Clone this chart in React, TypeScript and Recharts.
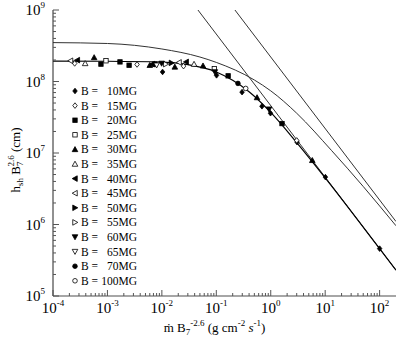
import { ComposedChart, Line, Scatter, XAxis, YAxis, Legend } from "recharts";

// axis ticks (decades)
const xMajor = [1e-4, 1e-3, 1e-2, 1e-1, 1, 10, 100];
const yMajor = [1e5, 1e6, 1e7, 1e8, 1e9];

// model curves
const lowerCurve = [
  { x: 1e-4, y: 1.93e8 }, { x: 1e-3, y: 1.92e8 }, { x: 1e-2, y: 1.87e8 },
  { x: 0.03, y: 1.72e8 }, { x: 0.1, y: 1.36e8 }, { x: 0.2, y: 1.04e8 },
  { x: 0.4, y: 7.2e7 }, { x: 1, y: 3.7e7 }, { x: 3, y: 1.4e7 },
  { x: 10, y: 4.5e6 }, { x: 100, y: 4.6e5 }, { x: 200, y: 2.3e5 },
];
const upperCurve = [
  { x: 1e-4, y: 3.5e8 }, { x: 1e-3, y: 3.4e8 }, { x: 1e-2, y: 2.85e8 },
  { x: 0.05, y: 2.2e8 }, { x: 0.1, y: 1.85e8 }, { x: 0.5, y: 1.05e8 },
  { x: 1, y: 7.4e7 }, { x: 3, y: 3.6e7 }, { x: 13, y: 1.09e7 },
  { x: 50, y: 3.4e6 }, { x: 200, y: 9.6e5 },
];
const steepA = [{ x: 0.046, y: 1e9 }, { x: 200, y: 2.3e5 }];
const steepB = [{ x: 0.22, y: 1e9 }, { x: 200, y: 1.1e6 }];

// simulation points, one array per field strength
const b10 = [
  { x: 1.03e-2, y: 1.36e8 }, { x: 0.101, y: 1.22e8 }, { x: 0.297, y: 7.1e7 },
  { x: 0.69, y: 4.5e7 }, { x: 0.99, y: 3.6e7 }, { x: 3.04, y: 1.42e7 },
  { x: 10.1, y: 4.6e6 }, { x: 100, y: 4.6e5 },
];
const b15 = [{ x: 2.5e-4, y: 1.79e8 }, { x: 3.5e-3, y: 1.73e8 }, { x: 2.5e-2, y: 1.64e8 }, { x: 3.0, y: 1.5e7 }];
const b20 = [
  { x: 7.6e-4, y: 1.75e8 }, { x: 1.7e-3, y: 1.88e8 }, { x: 2.5e-3, y: 1.69e8 },
  { x: 7.4e-3, y: 1.75e8 }, { x: 0.165, y: 1.2e8 }, { x: 1.61, y: 2.58e7 },
];
const b25 = [{ x: 9.4e-4, y: 1.95e8 }, { x: 9.2e-2, y: 1.51e8 }];
const b30 = [
  { x: 5.7e-4, y: 2.17e8 }, { x: 6.0e-3, y: 1.69e8 }, { x: 1.73e-2, y: 1.6e8 },
  { x: 5.7e-2, y: 1.66e8 }, { x: 0.56, y: 5.97e7 }, { x: 5.8, y: 7.9e6 },
];
const b35 = [{ x: 3.9e-4, y: 1.79e8 }, { x: 3.9e-2, y: 1.75e8 }];
const b40 = [{ x: 2.8e-4, y: 1.99e8 }, { x: 6.7e-3, y: 1.75e8 }, { x: 2.8e-2, y: 1.88e8 }];
const b45 = [{ x: 2.1e-4, y: 1.95e8 }, { x: 2.07e-2, y: 1.85e8 }];
const b50 = [{ x: 1.5e-2, y: 1.82e8 }];
const b55 = [{ x: 1.18e-2, y: 1.75e8 }];
const b60 = [{ x: 9.9e-3, y: 1.79e8 }, { x: 9.4e-2, y: 1.36e8 }, { x: 0.93, y: 4.1e7 }];
const b65 = [{ x: 8.0e-3, y: 1.69e8 }];
const b70 = [{ x: 0.25, y: 9.4e7 }];
const b100 = [{ x: 0.347, y: 8.0e7 }];

const fieldLabels = ["10MG", "15MG", "20MG", "25MG", "30MG", "35MG", "40MG", "45MG", "50MG", "55MG", "60MG", "65MG", "70MG", "100MG"];
const fieldData = [b10, b15, b20, b25, b30, b35, b40, b45, b50, b55, b60, b65, b70, b100];
const markerKinds = ["diamond", "diamond", "square", "square", "up", "up", "left", "left", "right", "right", "down", "down", "circle", "circle"];
const markerOpen = [false, true, false, true, false, true, false, true, false, true, false, true, false, true];

const SERIF = "'Liberation Serif', 'DejaVu Serif', serif";

function minors(lo: number, hi: number, max: number) {
  const out: number[] = [];
  for (let e = lo; e < hi; e++) for (let m = 2; m <= 9; m++) {
    const v = m * Math.pow(10, e);
    if (v < max) out.push(v);
  }
  return out;
}
const xTicks = [...xMajor, ...minors(-4, 3, 199)];
const yTicks = [...yMajor, ...minors(5, 9, 1e9)];

const isDecade = (v: number) => Math.abs(Math.log10(v) - Math.round(Math.log10(v))) < 1e-6;

function makeTick(side: "bottom" | "top" | "left" | "right", showLabel: boolean) {
  return (props: any) => {
    const { x, y, payload } = props;
    const v = payload.value;
    const major = isDecade(v);
    const len = major ? 6 : 3;
    const exp = Math.round(Math.log10(v));
    let line;
    if (side === "bottom") line = <line x1={x} y1={y} x2={x} y2={y - len} />;
    else if (side === "top") line = <line x1={x} y1={y} x2={x} y2={y + len} />;
    else if (side === "left") line = <line x1={x} y1={y} x2={x + len} y2={y} />;
    else line = <line x1={x} y1={y} x2={x - len} y2={y} />;
    return (
      <g stroke="#555" strokeWidth={1}>
        {line}
        {showLabel && major && side === "bottom" && (
          <text x={x} y={y + 17} textAnchor="middle" fontFamily={SERIF} fontSize={15} fill="#000" stroke="none">
            10<tspan dy={-7} fontSize={9}>{exp}</tspan>
          </text>
        )}
        {showLabel && major && side === "left" && (
          <text x={x - 8} y={y + 5} textAnchor="end" fontFamily={SERIF} fontSize={15} fill="#000" stroke="none">
            10<tspan dy={-7} fontSize={9}>{exp}</tspan>
          </text>
        )}
      </g>
    );
  };
}

function Mark({ kind, open, cx, cy }: { kind: string; open: boolean; cx: number; cy: number }) {
  const fill = open ? "#fff" : "#000";
  const s = { fill, stroke: "#000", strokeWidth: 0.8 };
  const r = 2.8;
  switch (kind) {
    case "diamond":
      return <polygon {...s} points={`${cx},${cy - r} ${cx + r * 0.8},${cy} ${cx},${cy + r} ${cx - r * 0.8},${cy}`} />;
    case "square":
      return <rect {...s} x={cx - 2.2} y={cy - 2.2} width={4.4} height={4.4} />;
    case "up":
      return <polygon {...s} points={`${cx},${cy - r} ${cx + r},${cy + r * 0.8} ${cx - r},${cy + r * 0.8}`} />;
    case "down":
      return <polygon {...s} points={`${cx},${cy + r} ${cx + r},${cy - r * 0.8} ${cx - r},${cy - r * 0.8}`} />;
    case "left":
      return <polygon {...s} points={`${cx - r},${cy} ${cx + r * 0.8},${cy - r} ${cx + r * 0.8},${cy + r}`} />;
    case "right":
      return <polygon {...s} points={`${cx + r},${cy} ${cx - r * 0.8},${cy - r} ${cx - r * 0.8},${cy + r}`} />;
    default:
      return <circle {...s} cx={cx} cy={cy} r={2.3} />;
  }
}

const renderLegend = () => (
  <svg width={80} height={204} style={{ display: "block" }}>
    {fieldLabels.map((lab, i) => {
      const cy = 8 + i * 14.6;
      return (
        <g key={lab}>
          <Mark kind={markerKinds[i]} open={markerOpen[i]} cx={7} cy={cy} />
          <text x={13} y={cy + 4} fontFamily={SERIF} fontSize={11.5} fill="#000">B =</text>
          <text x={69} y={cy + 4} textAnchor="end" fontFamily={SERIF} fontSize={11.5} fill="#000">{lab}</text>
        </g>
      );
    })}
  </svg>
);

const XLabel = (props: any) => {
  const { viewBox } = props;
  const cx = viewBox.x + viewBox.width / 2 - 10;
  const y = viewBox.y + 36;
  return (
    <text x={cx} y={y} textAnchor="middle" fontFamily={SERIF} fontSize={13} fill="#000">
      ṁ B<tspan dy={3} fontSize={9}>7</tspan>
      <tspan dy={-9} fontSize={9}>-2.6</tspan>
      <tspan dy={6}> (g cm</tspan>
      <tspan dy={-6} fontSize={9}>-2</tspan>
      <tspan dy={6}> </tspan>
      <tspan fontStyle="italic">s</tspan>
      <tspan dy={-6} fontSize={9}>-1</tspan>
      <tspan dy={6}>)</tspan>
    </text>
  );
};

const YLabel = () => (
  <text x={0} y={0} transform="translate(20,160) rotate(-90)" textAnchor="middle" fontFamily={SERIF} fontSize={13} fill="#000">
    h<tspan dy={3} fontSize={9}>sh</tspan>
    <tspan dy={-3}> B</tspan>
    <tspan dy={3} fontSize={9}>7</tspan>
    <tspan dy={-9} dx={-5} fontSize={9}>2.6</tspan>
    <tspan dy={6}> (cm)</tspan>
  </text>
);

export default function App() {
  return (
    <div style={{ position: "absolute", left: 0, top: 0, background: "#fff" }}>
      <ComposedChart width={397} height={338} margin={{ top: 10, right: 1, left: 0, bottom: 0 }}>
        <XAxis
          dataKey="x" type="number" scale="log" domain={[1e-4, 200]} allowDataOverflow
          ticks={xTicks} interval={0} tickSize={0} tickMargin={0} height={42}
          axisLine={{ stroke: "#888", strokeWidth: 1.5 }} tick={makeTick("bottom", true)}
          label={<XLabel />}
        />
        <XAxis
          xAxisId="top" orientation="top" dataKey="x" type="number" scale="log" domain={[1e-4, 200]} allowDataOverflow
          ticks={xTicks} interval={0} tickSize={0} tickMargin={0} height={0}
          axisLine={{ stroke: "#999", strokeWidth: 2 }} tick={makeTick("top", false)}
        />
        <YAxis
          dataKey="y" type="number" scale="log" domain={[1e5, 1e9]} allowDataOverflow
          ticks={yTicks} interval={0} tickSize={0} tickMargin={0} width={53}
          axisLine={{ stroke: "#222", strokeWidth: 1 }} tick={makeTick("left", true)}
          label={<YLabel />}
        />
        <YAxis
          yAxisId="right" orientation="right" dataKey="y" type="number" scale="log" domain={[1e5, 1e9]} allowDataOverflow
          ticks={yTicks} interval={0} tickSize={0} tickMargin={0} width={0}
          axisLine={{ stroke: "#888", strokeWidth: 1.5 }} tick={makeTick("right", false)}
        />
        <Line data={upperCurve} dataKey="y" type="monotone" stroke="#333" strokeWidth={1} dot={false} isAnimationActive={false} />
        <Line data={steepA} dataKey="y" type="linear" stroke="#333" strokeWidth={1} dot={false} isAnimationActive={false} />
        <Line data={steepB} dataKey="y" type="linear" stroke="#333" strokeWidth={1} dot={false} isAnimationActive={false} />
        <Line data={lowerCurve} dataKey="y" type="monotone" stroke="#000" strokeWidth={1.2} dot={false} isAnimationActive={false} />
        {fieldLabels.map((lab, i) => (
          <Scatter
            key={lab}
            name={`B = ${lab}`}
            data={fieldData[i]}
            dataKey="y"
            isAnimationActive={false}
            shape={(p: any) => <Mark kind={markerKinds[i]} open={markerOpen[i]} cx={p.cx} cy={p.cy} />}
          />
        ))}
        <Legend
          layout="horizontal" verticalAlign="middle" align="center"
          content={renderLegend}
          wrapperStyle={{ left: 68, top: 83, width: 80, height: 204 }}
        />
      </ComposedChart>
    </div>
  );
}
